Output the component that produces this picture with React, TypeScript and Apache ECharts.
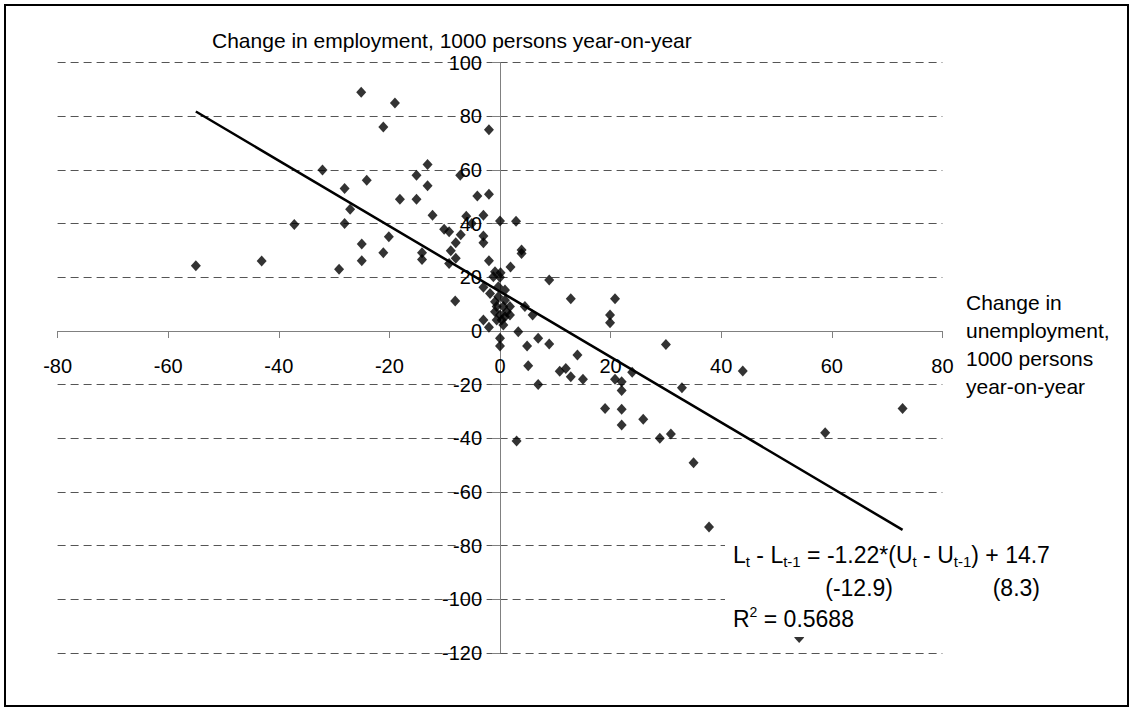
import React, { useEffect, useRef } from "react";
import * as echarts from "echarts";

const unemploymentChange = [
  -55.0, -43.1, -37.2, -32.1, -29.1, -28.1, -28.1, -27.1, -25.0, -25.0,
  -25.1, -24.1, -21.1, -21.1, -20.1, -19.0, -18.1, -15.1, -15.1, -13.1,
  -13.1, -14.1, -14.1, -12.2, -10.1, -9.2, -7.1, -7.2, -6.1, -5.1,
  -4.1, -2.0, -2.0, -3.0, -8.0, -3.0, -3.0, -8.9, -8.0, -9.2,
  -2.0, 0, 2.9, 3.9, 3.9, 1.9, -0.9, 0.1, -1.2, 0,
  8.9, -8.1, -3.0, -1.8, -0.3, -0.3, 0.9, 0.9, -0.9, -0.6,
  -0.9, 0.6, 1.8, 1.2, 0, 0.9, 1.8, 0.3, -0.6, 0.6,
  4.5, 5.9, 12.8, 20.8, 19.9, 19.9, -3.0, -2.0, 3.3, 0,
  0, 4.9, 6.9, 8.9, 5.1, 6.9, 14.0, 10.8, 11.9, 12.8,
  15.0, 20.8, 22.0, 22.0, 23.9, 30.0, 19.0, 22.0, 22.0, 25.9,
  28.9, 30.9, 3.0, 43.9, 32.9, 35.0, 37.8, 54.1, 58.8, 72.8,
];

const employmentChange = [
  24.3, 26.1, 39.7, 60.0, 23.0, 53.1, 40.1, 45.4, 32.4, 26.2,
  89.0, 56.2, 76.0, 29.2, 35.1, 85.0, 49.1, 58.1, 49.1, 62.1,
  54.1, 29.2, 26.7, 43.1, 37.9, 37.0, 35.9, 58.1, 42.8, 40.1,
  50.3, 51.0, 75.0, 43.1, 32.9, 35.4, 32.9, 29.9, 27.1, 25.2,
  26.2, 41.0, 40.9, 30.2, 28.9, 23.9, 22.1, 21.7, 20.2, 20.0,
  19.0, 11.2, 16.3, 14.0, 16.5, 12.8, 15.3, 11.5, 10.9, 9.1,
  7.2, 9.1, 9.1, 7.2, 6.0, 5.3, 6.0, 4.1, 4.1, 2.2,
  9.1, 6.0, 12.0, 12.0, 6.0, 3.1, 4.1, 1.4, -0.3, -2.7,
  -5.6, -5.6, -2.7, -4.8, -12.9, -19.9, -8.9, -15.0, -14.0, -17.0,
  -18.0, -18.0, -18.9, -22.2, -15.4, -5.0, -28.9, -29.2, -35.0, -32.9,
  -40.0, -38.4, -41.0, -14.9, -21.1, -49.1, -73.0, -114.2, -37.9, -28.9,
];

const trendX = [-55, 72.8];
const trendY = [81.8, -74.1];

const xAxisRange = { min: -80, max: 80, interval: 20 };
const yAxisRange = { min: -120, max: 100, interval: 20 };

const yTitle = "Change in employment, 1000 persons year-on-year";
const xTitleLines = ["Change in", "unemployment,", "1000 persons", "year-on-year"];
const seLeft = "(-12.9)";
const seRight = "(8.3)";
const r2Value = "0.5688";

const FONT = '"Liberation Sans", Arial, sans-serif';

const GRID_LEFT = 57.6;
const GRID_RIGHT = 192.6;
const GRID_TOP = 62.7;
const GRID_BOTTOM = 62;
const W = 1135;
const H = 715;

export default function App() {
  const ref = useRef<HTMLDivElement>(null);

  useEffect(() => {
    if (!ref.current) return;
    const chart = echarts.init(ref.current, null, { renderer: "svg" });

    const scatterData = unemploymentChange.map((x, i) => [x, employmentChange[i]]);
    const trendData = trendX.map((x, i) => [x, trendY[i]]);

    const axisColor = "#808080";

    // offsets that move axes (with labels and ticks) to the zero crossing
    const plotW = W - GRID_LEFT - GRID_RIGHT;
    const plotH = H - GRID_TOP - GRID_BOTTOM;
    const zeroX = GRID_LEFT + ((0 - xAxisRange.min) / (xAxisRange.max - xAxisRange.min)) * plotW;
    const zeroY = GRID_TOP + ((yAxisRange.max - 0) / (yAxisRange.max - yAxisRange.min)) * plotH;
    const xOffset = -(H - GRID_BOTTOM - zeroY);
    const yOffset = -(zeroX - GRID_LEFT);

    const option: any = {
      animation: false,
      backgroundColor: "#ffffff",
      grid: { left: GRID_LEFT, right: GRID_RIGHT, top: GRID_TOP, bottom: GRID_BOTTOM, containLabel: false },
      xAxis: {
        type: "value",
        position: "bottom",
        offset: xOffset,
        min: xAxisRange.min,
        max: xAxisRange.max,
        interval: xAxisRange.interval,
        axisLine: { show: true, onZero: false, lineStyle: { color: axisColor, width: 1 } },
        axisTick: { show: true, length: 7, lineStyle: { color: axisColor } },
        axisLabel: {
          show: true,
          margin: 25,
          fontSize: 20,
          fontFamily: FONT,
          color: "#000",
          showMinLabel: true,
          showMaxLabel: true,
          hideOverlap: false,
        },
        splitLine: { show: false },
      },
      yAxis: {
        type: "value",
        position: "left",
        offset: yOffset,
        min: yAxisRange.min,
        max: yAxisRange.max,
        interval: yAxisRange.interval,
        axisLine: { show: true, onZero: false, lineStyle: { color: axisColor, width: 1 } },
        axisTick: { show: true, length: 8, lineStyle: { color: axisColor } },
        axisLabel: {
          show: true,
          margin: 18,
          fontSize: 20,
          fontFamily: FONT,
          color: "#000",
          showMinLabel: true,
          showMaxLabel: true,
          hideOverlap: false,
        },
        splitLine: { show: true, lineStyle: { type: [8, 5], color: "#555555", width: 1 } },
      },
      series: [
        {
          type: "line",
          data: trendData,
          showSymbol: false,
          symbol: "none",
          lineStyle: { color: "#000", width: 2.5 },
          z: 2,
          silent: true,
        },
        {
          type: "scatter",
          data: scatterData,
          symbol: "diamond",
          symbolSize: [10, 11],
          itemStyle: { color: "#000" },
          z: 3,
        },
      ],
      graphic: [
        {
          type: "rect",
          z: 0,
          shape: { x: 5, y: 5, width: 1123, height: 701 },
          style: { fill: "none", stroke: "#000", lineWidth: 2 },
          silent: true,
        },
        {
          type: "text",
          x: 212,
          y: 40.5,
          z: 10,
          style: {
            text: yTitle,
            font: `21px ${FONT}`,
            fill: "#000",
            textAlign: "left",
            textVerticalAlign: "middle",
          },
        },
        ...xTitleLines.map((t, i) => ({
          type: "text",
          x: 966,
          y: 302 + i * 28,
          z: 10,
          style: {
            text: t,
            font: `21px ${FONT}`,
            fill: "#000",
            textAlign: "left",
            textVerticalAlign: "middle",
          },
        })),
        {
          type: "rect",
          z: 50,
          shape: { x: 725, y: 540, width: 325, height: 97 },
          style: { fill: "#ffffff", stroke: "none" },
          silent: true,
        },
        {
          type: "text",
          x: 733,
          y: 555,
          z: 51,
          style: {
            text: "{n|L}{s|t}{n| - L}{s|t-1}{n| = -1.22*(U}{s|t}{n| - U}{s|t-1}{n|) + 14.7}",
            textAlign: "left",
            textVerticalAlign: "middle",
            rich: {
              n: { fontSize: 23, fontFamily: FONT, lineHeight: 28, fill: "#000", color: "#000" },
              s: { fontSize: 15, fontFamily: FONT, lineHeight: 18, verticalAlign: "bottom", fill: "#000", color: "#000" },
            },
          },
        },
        {
          type: "text",
          x: 893,
          y: 588,
          z: 51,
          style: { text: seLeft, font: `23px ${FONT}`, fill: "#000", textAlign: "right", textVerticalAlign: "middle" },
        },
        {
          type: "text",
          x: 1040,
          y: 588,
          z: 51,
          style: { text: seRight, font: `23px ${FONT}`, fill: "#000", textAlign: "right", textVerticalAlign: "middle" },
        },
        {
          type: "text",
          x: 733,
          y: 619,
          z: 51,
          style: {
            text: "{n|R}{p|2}{n| = " + r2Value + "}",
            textAlign: "left",
            textVerticalAlign: "middle",
            rich: {
              n: { fontSize: 23, fontFamily: FONT, lineHeight: 28, fill: "#000", color: "#000" },
              p: { fontSize: 14, fontFamily: FONT, lineHeight: 10, verticalAlign: "top", fill: "#000", color: "#000" },
            },
          },
        },
      ],
    };

    chart.setOption(option);
    return () => {
      chart.dispose();
    };
  }, []);

  return (
    <div
      ref={ref}
      style={{ position: "absolute", left: 0, top: 0, width: W, height: H, background: "#fff" }}
    />
  );
}
